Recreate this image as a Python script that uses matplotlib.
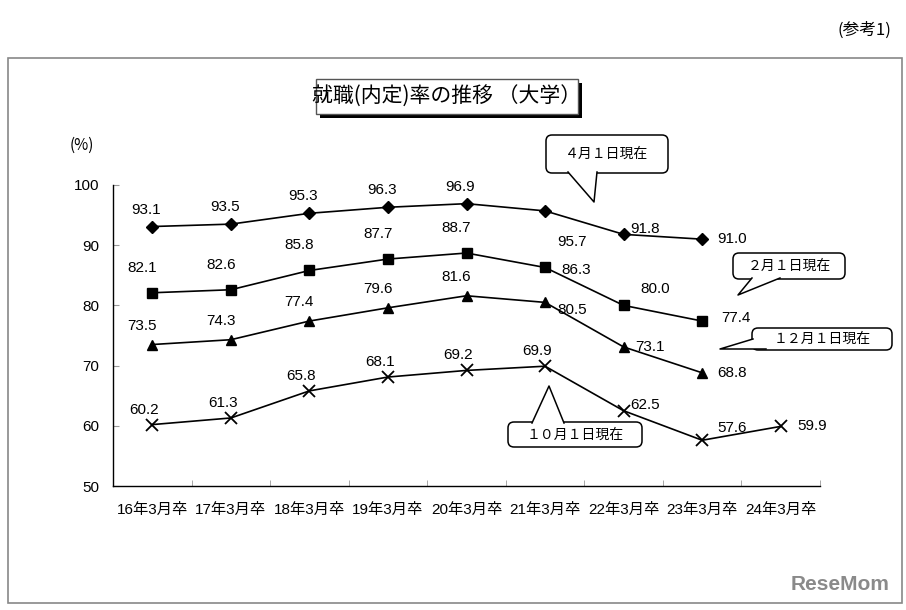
import matplotlib
matplotlib.use("Agg")
import matplotlib.pyplot as plt
from matplotlib.patches import FancyBboxPatch, Polygon, Rectangle
from matplotlib.ticker import MultipleLocator, FixedLocator

plt.rcParams['font.family'] = ['Liberation Sans', 'Noto Sans CJK JP', 'DejaVu Sans']

# data
categories = ["16年3月卒", "17年3月卒", "18年3月卒", "19年3月卒", "20年3月卒",
              "21年3月卒", "22年3月卒", "23年3月卒", "24年3月卒"]
apr1 = [93.1, 93.5, 95.3, 96.3, 96.9, 95.7, 91.8, 91.0]
feb1 = [82.1, 82.6, 85.8, 87.7, 88.7, 86.3, 80.0, 77.4]
dec1 = [73.5, 74.3, 77.4, 79.6, 81.6, 80.5, 73.1, 68.8]
oct1 = [60.2, 61.3, 65.8, 68.1, 69.2, 69.9, 62.5, 57.6, 59.9]

W, H = 906, 610
fig = plt.figure(figsize=(W / 100, H / 100), dpi=100)

# main axes, placed by pixel box
ax_l, ax_r, ax_t, ax_b = 113, 820, 185, 486
ax = fig.add_axes([ax_l / W, (H - ax_b) / H, (ax_r - ax_l) / W, (ax_b - ax_t) / H])
ax.set_xlim(-0.5, len(categories) - 0.5)
ax.set_ylim(50, 100)
ax.spines['top'].set_visible(False)
ax.spines['right'].set_visible(False)
ax.spines['left'].set_linewidth(1.0)
ax.spines['bottom'].set_linewidth(1.0)
ax.yaxis.set_major_locator(MultipleLocator(10))
ax.tick_params(axis='y', direction='in', length=4, color='#999999', labelsize=11, pad=10)
ax.set_xticks(range(len(categories)))
ax.set_xticklabels(categories, fontsize=11)
ax.tick_params(axis='x', length=0, pad=12)
ax.xaxis.set_minor_locator(FixedLocator([i + 0.5 for i in range(len(categories))]))
ax.tick_params(axis='x', which='minor', direction='in', length=4, color='#999999')

series = [
    (apr1, 'D', 6, -17, -6),
    (feb1, 's', 7.5, -25, -10),
    (dec1, '^', 7.5, -19, -10),
    (oct1, 'x', 8, -15, -8),
]
# labels drawn to the right of the point: index -> (dx, dy) pixels (dy down)
right_labels = [
    {5: (12, 31), 6: (7, -5), 7: (15, 0)},
    {5: (16, 3), 6: (17, -16), 7: (19, -3)},
    {5: (12, 8), 6: (12, 0), 7: (15, 0)},
    {6: (7, -6), 7: (15, -12), 8: (17, 0)},
]

for (vals, mk, ms, dy_up, dx_up), rl in zip(series, right_labels):
    xs = list(range(len(vals)))
    ax.plot(xs, vals, color='black', lw=1.2, marker=mk, ms=ms,
            mew=1.3 if mk == 'x' else 1.0, mfc='black', mec='black', clip_on=False)
    for i, v in enumerate(vals):
        if i in rl:
            dx, dy = rl[i]
            ax.annotate(f"{v:.1f}", (i, v), xytext=(dx, -dy), textcoords='offset pixels',
                        ha='left', va='center', fontsize=11)
        else:
            ax.annotate(f"{v:.1f}", (i, v), xytext=(dx_up, -dy_up), textcoords='offset pixels',
                        ha='center', va='center', fontsize=11)

# overlay in pixel coordinates for frame, title and callouts
ov = fig.add_axes([0, 0, 1, 1], facecolor='none')
ov.set_xlim(0, W)
ov.set_ylim(H, 0)
ov.axis('off')

ov.add_patch(Rectangle((8, 58), 894, 545, fill=False, ec='#888888', lw=1.2))
ov.text(864, 30, "(参考1)", ha='center', va='center', fontsize=12,
        family=['Noto Sans CJK JP'])

# title box with shadow
ov.add_patch(Rectangle((320, 83), 262, 35, fc='black', ec='none'))
ov.add_patch(Rectangle((316, 79), 262, 35, fc='white', ec='#555555', lw=1.0))
ov.text(447, 97, "就職(内定)率の推移 （大学）", ha='center', va='center', fontsize=15,
        family=['Noto Sans CJK JP'])

ov.text(82, 145, "(%)", ha='center', va='center', fontsize=11,
        family=['Noto Sans CJK JP'])


def callout(x0, y0, x1, y1, tail, text, fs=10):
    box = FancyBboxPatch((x0, y0), x1 - x0, y1 - y0,
                         boxstyle="round,pad=0,rounding_size=6",
                         fc='white', ec='black', lw=1.1)
    ov.add_patch(box)
    a, tip, b = tail
    ov.add_patch(Polygon([a, tip, b], closed=True, fc='white', ec='none'))
    ov.plot([a[0], tip[0], b[0]], [a[1], tip[1], b[1]], color='black', lw=1.1)
    ov.text((x0 + x1) / 2, (y0 + y1) / 2, text, ha='center', va='center', fontsize=fs,
            family=['Noto Sans CJK JP'])


callout(546, 135, 668, 173, ((568, 172), (594, 202), (597, 172)), "４月１日現在")
callout(733, 253, 845, 279, ((752, 278), (738, 295), (780, 278)), "２月１日現在")
callout(752, 328, 892, 350, ((753, 339), (720, 349), (766, 349)), "１２月１日現在")
callout(508, 422, 642, 447, ((532, 423), (549, 386), (564, 423)), "１０月１日現在")

ov.text(840, 585, "ReseMom", ha='center', va='center', fontsize=15, fontweight='bold',
        color='#8a8a8a')

fig.savefig("out.png", dpi=100)
